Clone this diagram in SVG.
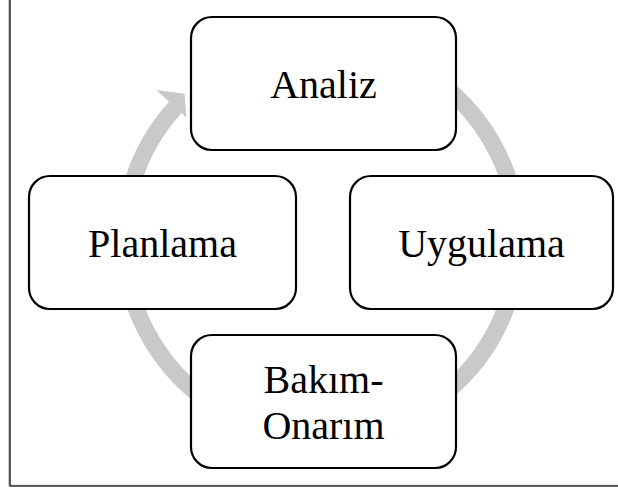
<svg xmlns="http://www.w3.org/2000/svg" width="618" height="490" viewBox="0 0 618 490">
  <style>
    .box { fill: #ffffff; stroke: #000000; stroke-width: 2.2; }
    .lbl { font-family: "Liberation Serif", "Times New Roman", serif; font-size: 40px; fill: #000000; text-anchor: middle; }
    .ring { fill: none; stroke: #c9c9c9; stroke-width: 17; }
    .head { fill: #c9c9c9; stroke: none; }
  </style>
  <rect x="0" y="0" width="618" height="490" fill="#ffffff"/>
  <g id="frame">
    <path d="M8.8,0 V485.2 H618" fill="none" stroke="#b0b0b0" stroke-width="1"/>
    <path d="M10,0 V486 H618" fill="none" stroke="#333333" stroke-width="1.6"/>
  </g>
  <g id="connectors">
    <path class="ring" d="M355.2,46 A197,197 0 1 1 175.3,107.4"/>
    <polygon class="head" points="156.1,89.9 184.6,93.7 186.4,117.5"/>
  </g>
  <g id="node-analiz">
    <rect class="box" x="191" y="17" width="265" height="133" rx="21" ry="21"/>
    <text class="lbl" x="323.5" y="98">Analiz</text>
  </g>
  <g id="node-uygulama">
    <rect class="box" x="350" y="176" width="263" height="133" rx="21" ry="21"/>
    <text class="lbl" x="481.5" y="257">Uygulama</text>
  </g>
  <g id="node-bakim">
    <rect class="box" x="191" y="335" width="265" height="133" rx="21" ry="21"/>
    <text class="lbl" x="323.5" y="393">Bakım-</text>
    <text class="lbl" x="323.5" y="439">Onarım</text>
  </g>
  <g id="node-planlama">
    <rect class="box" x="29" y="176" width="267" height="133" rx="21" ry="21"/>
    <text class="lbl" x="162.5" y="257">Planlama</text>
  </g>
</svg>
